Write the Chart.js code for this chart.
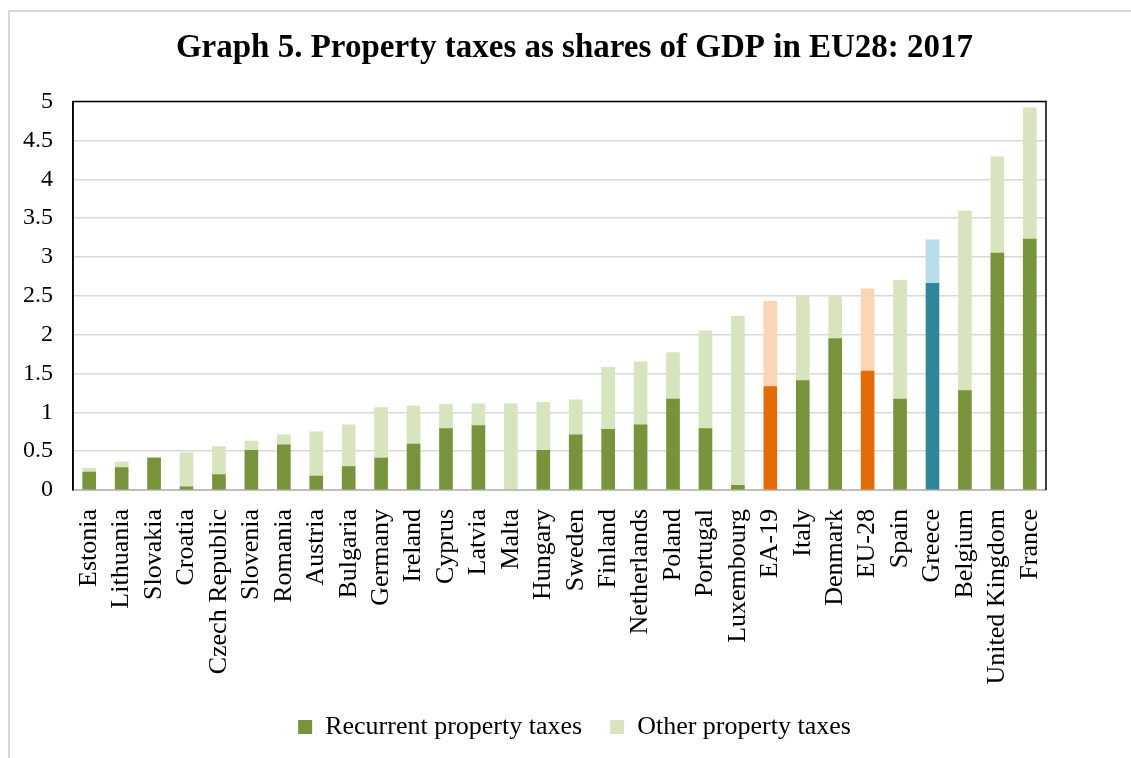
<!DOCTYPE html>
<html>
<head>
<meta charset="utf-8">
<script src="https://cdn.jsdelivr.net/npm/chart.js@4/dist/chart.umd.min.js"></script>
<style>
  html, body { margin: 0; padding: 0; background: #fff; }
  #frame {
    position: absolute; left: 8px; top: 10px; width: 1130px; height: 760px;
    border-left: 2px solid #d9d9d9; border-top: 2px solid #d9d9d9;
  }
  #wrap { position: absolute; left: 0; top: 0; width: 1131px; height: 758px; }
</style>
</head>
<body>
<div id="frame"></div>
<div id="wrap"><canvas id="js-bar-chart"></canvas></div>
<script>
"use strict";

const COUNTRIES = [
  "Estonia", "Lithuania", "Slovakia", "Croatia", "Czech Republic", "Slovenia",
  "Romania", "Austria", "Bulgaria", "Germany", "Ireland", "Cyprus", "Latvia",
  "Malta", "Hungary", "Sweden", "Finland", "Netherlands", "Poland", "Portugal",
  "Luxembourg", "EA-19", "Italy", "Denmark", "EU-28", "Spain", "Greece",
  "Belgium", "United Kingdom", "France"
];
const RECURRENT = [
  0.23, 0.29, 0.41, 0.04, 0.20, 0.51, 0.58, 0.18, 0.30, 0.41, 0.59, 0.79, 0.83,
  0.00, 0.51, 0.71, 0.78, 0.84, 1.17, 0.79, 0.06, 1.33, 1.41, 1.95, 1.53, 1.17,
  2.66, 1.28, 3.05, 3.23
];
const OTHER = [
  0.05, 0.07, 0.01, 0.44, 0.36, 0.12, 0.13, 0.57, 0.54, 0.65, 0.49, 0.31, 0.28,
  1.11, 0.62, 0.45, 0.80, 0.81, 0.60, 1.26, 2.18, 1.10, 1.08, 0.54, 1.06, 1.53,
  0.56, 2.31, 1.24, 1.69
];
const Y_TICKS = ["0", "0.5", "1", "1.5", "2", "2.5", "3", "3.5", "4", "4.5", "5"];
const SERIES_NAMES = ["Recurrent property taxes", "Other property taxes"];

const FONT = "'Liberation Serif', 'Times New Roman', serif";

// 平均値はオレンジ、ギリシャは青
function barColor(index, dark) {
  const name = COUNTRIES[index];
  if (name === "EA-19" || name === "EU-28") return dark ? "#e36c09" : "#fcd5b5";
  if (name === "Greece") return dark ? "#31859c" : "#b7dee8";
  return dark ? "#77933c" : "#d7e4bd";
}

// プロット枠
const plotFrame = {
  id: "plotFrame",
  afterDatasetsDraw(chart) {
    const { ctx, chartArea } = chart;
    ctx.save();
    ctx.strokeStyle = "#000";
    ctx.lineWidth = 1.5;
    ctx.beginPath();
    ctx.moveTo(chartArea.left, chartArea.bottom);
    ctx.lineTo(chartArea.left, chartArea.top);
    ctx.lineTo(chartArea.right, chartArea.top);
    ctx.lineTo(chartArea.right, chartArea.bottom);
    ctx.stroke();
    ctx.restore();
  },
};

const bar_ctx = document.getElementById("js-bar-chart").getContext("2d");

new Chart(bar_ctx, {
  type: "bar",
  data: {
    labels: COUNTRIES,
    datasets: [
      {
        label: SERIES_NAMES[0],
        data: RECURRENT,
        backgroundColor: (c) => barColor(c.dataIndex === undefined ? 0 : c.dataIndex, true),
        barThickness: 13,
      },
      {
        label: SERIES_NAMES[1],
        data: OTHER,
        backgroundColor: (c) => barColor(c.dataIndex === undefined ? 0 : c.dataIndex, false),
        barThickness: 13,
      },
    ],
  },
  options: {
    responsive: true,
    maintainAspectRatio: false,
    animation: false,
    layout: { padding: { left: 18, right: 0, top: 0, bottom: 8 } },
    scales: {
      x: {
        stacked: true,
        grid: { display: false },
        border: { color: "#bfbfbf", width: 2 },
        ticks: {
          autoSkip: false,
          minRotation: 90,
          maxRotation: 90,
          padding: 11,
          color: "#000",
          font: { family: FONT, size: 26 },
        },
        afterFit: (scale) => { scale.height = 196; },
      },
      y: {
        stacked: true,
        min: 0,
        max: 5,
        grid: { color: "#d9d9d9", lineWidth: 1.5, drawTicks: false },
        border: { color: "#000", width: 1.5 },
        ticks: {
          stepSize: 0.5,
          padding: 20,
          color: "#000",
          font: { family: FONT, size: 24 },
          callback: function (value, index) {
            return Y_TICKS[index];
          },
        },
        afterFit: (scale) => { scale.width = 55; },
      },
      // 右側の余白用
      yRight: {
        position: "right",
        grid: { display: false },
        border: { display: false },
        ticks: { display: false },
        afterFit: (scale) => { scale.width = 85; },
      },
    },
    plugins: {
      title: {
        display: true,
        text: "Graph 5. Property taxes as shares of GDP in EU28: 2017",
        color: "#000",
        font: { family: FONT, size: 33, weight: "bold" },
        padding: { top: 29, bottom: 33 },
      },
      legend: {
        position: "bottom",
        labels: {
          color: "#000",
          boxWidth: 14,
          boxHeight: 14,
          padding: 28,
          font: { family: FONT, size: 26 },
        },
      },
      tooltip: { enabled: false },
    },
  },
  plugins: [plotFrame],
});
</script>
</body>
</html>
